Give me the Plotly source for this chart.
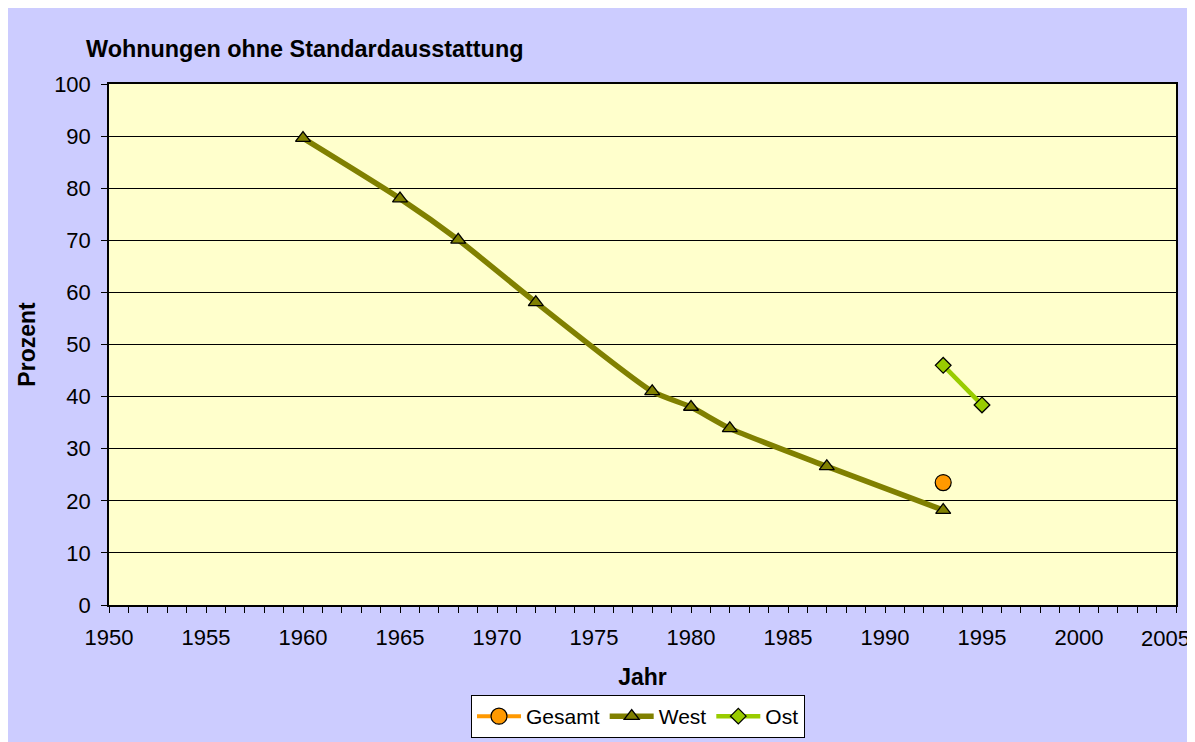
"""Wohnungen ohne Standardausstattung."""

import plotly.graph_objects as go

WEST_YEARS = [1960, 1965, 1968, 1972, 1978, 1980, 1982, 1987, 1993]
WEST_VALUES = [89.6, 78.0, 70.1, 58.1, 41.0, 38.0, 33.9, 26.6, 18.2]

OST_YEARS = [1993, 1995]
OST_VALUES = [46.0, 38.4]

GESAMT_YEARS = [1993]
GESAMT_VALUES = [23.5]

X_TICKS = [1950, 1955, 1960, 1965, 1970, 1975, 1980, 1985, 1990, 1995, 2000, 2005]
X_LABELS = [str(v) for v in X_TICKS]

# page body has an 8px margin, figure sits at (8, 8)
W, H = 1187, 734
FONT = "Liberation Sans, Arial, sans-serif"

fig = go.Figure()

fig.add_trace(go.Scatter(
    x=GESAMT_YEARS, y=GESAMT_VALUES, name="Gesamt", mode="lines+markers",
    line=dict(color="#FF9900", width=4),
    marker=dict(symbol="circle", size=16, color="#FF9900",
                line=dict(color="black", width=1.2)),
))
fig.add_trace(go.Scatter(
    x=WEST_YEARS, y=WEST_VALUES, name="West", mode="lines+markers",
    line=dict(color="#808000", width=5.5, shape="spline", smoothing=0.6),
    marker=dict(symbol="triangle-up", size=13, color="#808000",
                line=dict(color="black", width=1.3)),
))
fig.add_trace(go.Scatter(
    x=OST_YEARS, y=OST_VALUES, name="Ost", mode="lines+markers",
    line=dict(color="#99CC00", width=4.5),
    marker=dict(symbol="diamond", size=12, color="#99CC00",
                line=dict(color="black", width=1.3)),
))

# last year label would be clipped at the right edge -> pull it slightly left
fig.add_annotation(
    x=X_TICKS[-1], xref="x", y=0, yref="paper",
    text=X_LABELS[-1], showarrow=False,
    xanchor="center", yanchor="top", xshift=-11, yshift=-19,
    font=dict(size=22),
)

fig.update_layout(
    width=W, height=H,
    margin=dict(l=101, r=19, t=76, b=137, autoexpand=False),
    paper_bgcolor="#CCCCFF",
    plot_bgcolor="#FFFFCC",
    font=dict(family=FONT, size=22, color="black"),
    title=dict(
        text="<b>Wohnungen ohne Standardausstattung</b>",
        x=78 / W, xanchor="left", xref="container",
        y=1 - 41 / H, yanchor="middle", yref="container",
        font=dict(size=23.4),
    ),
    xaxis=dict(
        range=[1950, 2005],
        tickmode="array", tickvals=X_TICKS, ticktext=X_LABELS[:-1] + [""],
        showgrid=False, zeroline=False, automargin=False,
        showline=True, linecolor="black", linewidth=1.5, mirror=True,
        ticks="outside", ticklen=6, tickcolor="black",
        ticklabelstandoff=6,
        minor=dict(dtick=1, tick0=1950, ticks="outside", ticklen=6, tickcolor="black", showgrid=False),
        title=dict(text="<b>Jahr</b>", standoff=20, font=dict(size=23)),
    ),
    yaxis=dict(
        range=[0, 100], dtick=10,
        showgrid=True, gridcolor="black", gridwidth=1, zeroline=False, automargin=False,
        showline=True, linecolor="black", linewidth=1.5, mirror=True,
        ticks="outside", ticklen=6, tickcolor="black",
        ticklabelstandoff=6,
        title=dict(text="<b>Prozent</b>", standoff=12, font=dict(size=23)),
    ),
    legend=dict(
        orientation="h",
        xref="container", x=630 / W, xanchor="center",
        yref="container", y=4 / H, yanchor="bottom",
        bgcolor="white", bordercolor="black", borderwidth=1,
        font=dict(size=21),
        itemwidth=44,
    ),
    showlegend=True,
)

fig.write_html("out.html")
